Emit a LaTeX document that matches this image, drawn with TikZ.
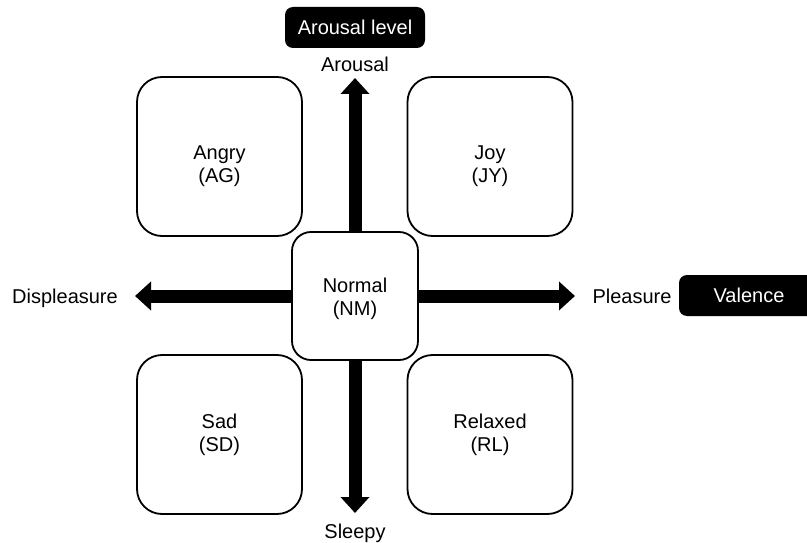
\documentclass[tikz,border=0pt]{standalone}
\usepackage{fontspec}
\setmainfont{Liberation Sans}
\usetikzlibrary{arrows.meta}
\begin{document}
\begin{tikzpicture}[x=1pt,y=-1pt,
  every node/.style={font=\fontsize{20}{23}\selectfont},
  emo/.style={draw, line width=1.8pt, rounded corners=25pt, minimum width=165pt, minimum height=159pt, fill=white, inner sep=0pt},
  mid/.style={draw, line width=1.8pt, rounded corners=19pt, minimum width=126pt, minimum height=128pt, fill=white, inner sep=0pt},
  txt/.style={align=center, inner sep=0pt},
  lbl/.style={anchor=base, inner sep=0pt},
  tag/.style={fill=black, text=white, rounded corners=8pt, minimum width=140pt, minimum height=41pt, inner sep=0pt, text height=14.5pt, text depth=0pt},
  axis/.style={line width=13pt, -{Triangle[width=28pt,length=16pt]}}
]
\clip (0,0) rectangle (807,543);

% boxes
\node[emo] (ag) at (219.5,156.5) {};
\node[emo] (jy) at (490,156.5) {};
\node[emo] (sd) at (219.5,434.5) {};
\node[emo] (rl) at (490,434.5) {};
\node[mid] (nm) at (355,296) {};

\node[txt] (agt) at (219.5,166) {Angry\\(AG)};
\node[txt] (jyt) at (490,166) {Joy\\(JY)};
\node[txt] (sdt) at (219.5,434.5) {Sad\\(SD)};
\node[txt] (rlt) at (490,434.5) {Relaxed\\(RL)};
\node[txt] (nmt) at (355,298.5) {Normal\\(NM)};

% axis tips
\coordinate (up) at (355,78);
\coordinate (down) at (355,513);
\coordinate (left) at (135,296);
\coordinate (right) at (575,296);

\draw[axis] (nm.north) -- (up);
\draw[axis] (nm.south) -- (down);
\draw[axis] (nm.west) -- (left);
\draw[axis] (nm.east) -- (right);

% labels
\node[lbl] (aro) at (355,72) {Arousal};
\node[lbl] (slp) at (355,538) {Sleepy};
\node[lbl] (dis) at (65,303.5) {Displeasure};
\node[lbl] (ple) at (632,303.5) {Pleasure};

\node[tag] (arolev) at (355,27.5) {Arousal level};
\node[tag] (val) at (749,295.5) {Valence};
\end{tikzpicture}
\end{document}
